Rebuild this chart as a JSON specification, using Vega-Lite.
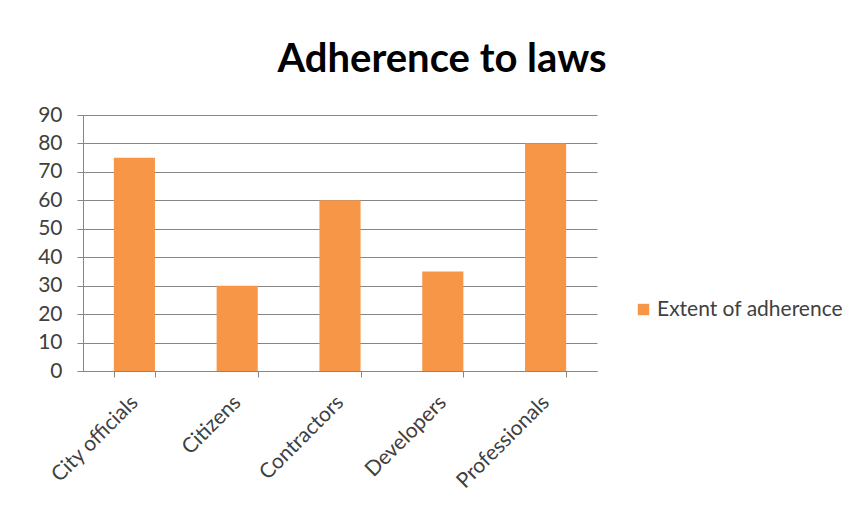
{
  "$schema": "https://vega.github.io/schema/vega-lite/v6.json",
  "autosize": "none",
  "width": 514,
  "height": 256,
  "padding": {"left": 83, "top": 115, "right": 266, "bottom": 151},
  "background": "white",
  "title": {
    "text": "Adherence to laws",
    "font": "Lato",
    "fontSize": 40,
    "fontWeight": "bold",
    "color": "#000000",
    "anchor": "middle",
    "dx": 102,
    "offset": 24
  },
  "data": {
    "values": [
      {"group": "City officials", "value": 75, "series": "Extent of adherence"},
      {"group": "Citizens", "value": 30, "series": "Extent of adherence"},
      {"group": "Contractors", "value": 60, "series": "Extent of adherence"},
      {"group": "Developers", "value": 35, "series": "Extent of adherence"},
      {"group": "Professionals", "value": 80, "series": "Extent of adherence"}
    ]
  },
  "mark": {"type": "bar"},
  "encoding": {
    "x": {
      "field": "group",
      "type": "nominal",
      "sort": null,
      "scale": {"paddingInner": 0.6, "paddingOuter": 0.3},
      "axis": {
        "title": null,
        "labelAngle": -45,
        "labelAlign": "right",
        "labelBaseline": "middle",
        "labelFont": "Lato",
        "labelFontSize": 21,
        "labelColor": "#404040",
        "labelPadding": 22,
        "labelLimit": 300,
        "tickBand": "extent",
        "tickSize": 6,
        "tickColor": "#868686",
        "domainColor": "#868686",
        "grid": false
      }
    },
    "y": {
      "field": "value",
      "type": "quantitative",
      "scale": {"domain": [0, 90], "nice": false},
      "axis": {
        "title": null,
        "values": [0, 10, 20, 30, 40, 50, 60, 70, 80, 90],
        "labelFont": "Lato",
        "labelFontSize": 21,
        "labelColor": "#404040",
        "labelPadding": 15,
        "tickSize": 6,
        "tickColor": "#868686",
        "domainColor": "#868686",
        "gridColor": "#868686",
        "grid": true
      }
    },
    "color": {
      "field": "series",
      "type": "nominal",
      "scale": {"range": ["#F79646"]},
      "legend": {
        "title": null,
        "orient": "none",
        "legendX": 550,
        "legendY": 184,
        "symbolType": "square",
        "symbolSize": 130,
        "symbolStrokeWidth": 0,
        "symbolOffset": 0,
        "labelOffset": 3,
        "labelLimit": 300,
        "labelFont": "Lato",
        "labelFontSize": 21,
        "labelColor": "#404040"
      }
    }
  },
  "config": {
    "view": {"stroke": null}
  }
}
